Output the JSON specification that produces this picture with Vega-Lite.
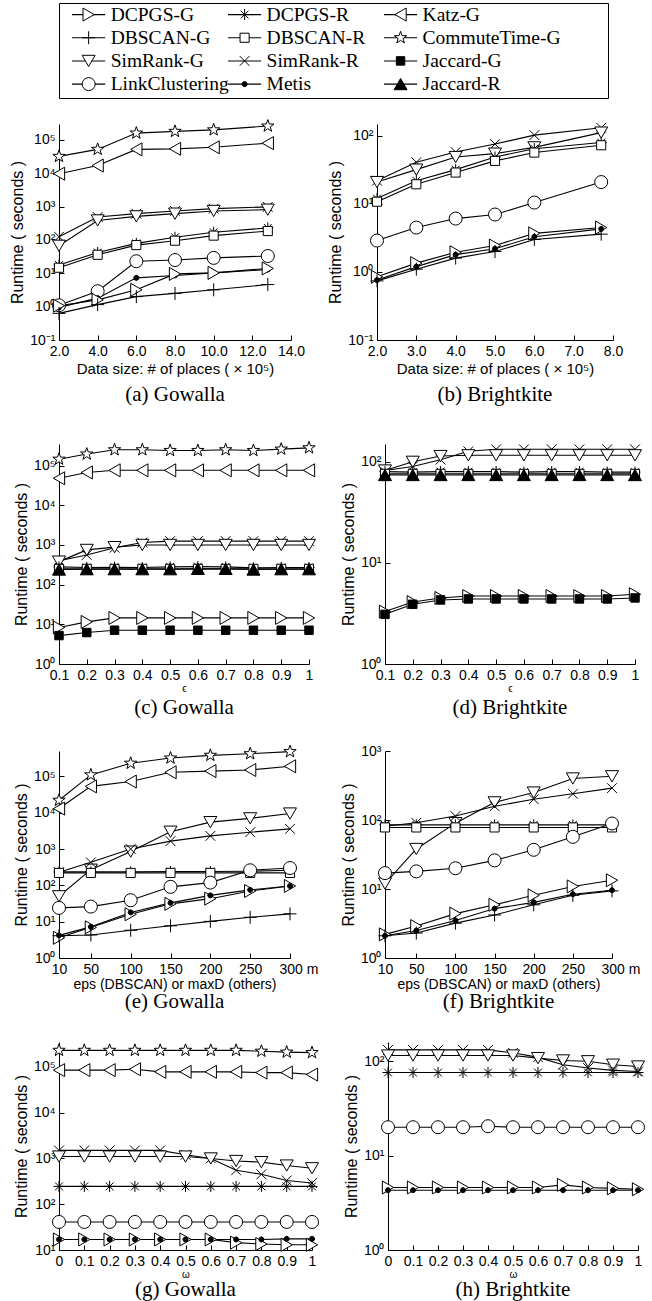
{
"$schema": "https://vega.github.io/schema/vega-lite/v6.json",
"background": "white",
"padding": {"left": 5, "top": 2, "right": 5, "bottom": 2},
"spacing": 18,
"datasets": {
"leg": [
{"s":"DCPGS-G","c":0,"r":0},{"s":"DBSCAN-G","c":0,"r":1},{"s":"SimRank-G","c":0,"r":2},{"s":"LinkClustering","c":0,"r":3},
{"s":"DCPGS-R","c":1,"r":0},{"s":"DBSCAN-R","c":1,"r":1},{"s":"SimRank-R","c":1,"r":2},{"s":"Metis","c":1,"r":3},
{"s":"Katz-G","c":2,"r":0},{"s":"CommuteTime-G","c":2,"r":1},{"s":"Jaccard-G","c":2,"r":2},{"s":"Jaccard-R","c":2,"r":3}
],
"a": [
{"s":"CommuteTime-G","x":2,"y":32000},{"s":"CommuteTime-G","x":4,"y":52000},{"s":"CommuteTime-G","x":6,"y":160000},{"s":"CommuteTime-G","x":8,"y":180000},{"s":"CommuteTime-G","x":10,"y":200000},{"s":"CommuteTime-G","x":12.8,"y":260000},
{"s":"Katz-G","x":2,"y":9700},{"s":"Katz-G","x":4,"y":17000},{"s":"Katz-G","x":6,"y":52000},{"s":"Katz-G","x":8,"y":54000},{"s":"Katz-G","x":10,"y":60000},{"s":"Katz-G","x":12.8,"y":80000},
{"s":"SimRank-R","x":2,"y":125},{"s":"SimRank-R","x":4,"y":490},{"s":"SimRank-R","x":6,"y":615},{"s":"SimRank-R","x":8,"y":740},{"s":"SimRank-R","x":10,"y":870},{"s":"SimRank-R","x":12.8,"y":980},
{"s":"SimRank-G","x":2,"y":67},{"s":"SimRank-G","x":4,"y":385},{"s":"SimRank-G","x":6,"y":510},{"s":"SimRank-G","x":8,"y":615},{"s":"SimRank-G","x":10,"y":740},{"s":"SimRank-G","x":12.8,"y":810},
{"s":"DCPGS-R","x":2,"y":17.7},{"s":"DCPGS-R","x":4,"y":42},{"s":"DCPGS-R","x":6,"y":79},{"s":"DCPGS-R","x":8,"y":120},{"s":"DCPGS-R","x":10,"y":170},{"s":"DCPGS-R","x":12.8,"y":230},
{"s":"DBSCAN-R","x":2,"y":14.7},{"s":"DBSCAN-R","x":4,"y":36},{"s":"DBSCAN-R","x":6,"y":70},{"s":"DBSCAN-R","x":8,"y":95},{"s":"DBSCAN-R","x":10,"y":135},{"s":"DBSCAN-R","x":12.8,"y":185},
{"s":"LinkClustering","x":2,"y":1.1},{"s":"LinkClustering","x":4,"y":2.9},{"s":"LinkClustering","x":6,"y":23},{"s":"LinkClustering","x":8,"y":25},{"s":"LinkClustering","x":10,"y":29},{"s":"LinkClustering","x":12.8,"y":33},
{"s":"Metis","x":2,"y":0.95},{"s":"Metis","x":4,"y":1.8},{"s":"Metis","x":6,"y":7.3},{"s":"Metis","x":8,"y":8.6},{"s":"Metis","x":10,"y":10.3},{"s":"Metis","x":12.8,"y":13},
{"s":"DCPGS-G","x":2,"y":1.07},{"s":"DCPGS-G","x":4,"y":1.6},{"s":"DCPGS-G","x":6,"y":3.2},{"s":"DCPGS-G","x":8,"y":9.6},{"s":"DCPGS-G","x":10,"y":10.3},{"s":"DCPGS-G","x":12.8,"y":14},
{"s":"DBSCAN-G","x":2,"y":0.63},{"s":"DBSCAN-G","x":4,"y":1.15},{"s":"DBSCAN-G","x":6,"y":2.0},{"s":"DBSCAN-G","x":8,"y":2.5},{"s":"DBSCAN-G","x":10,"y":3.2},{"s":"DBSCAN-G","x":12.8,"y":4.6}
],
"b": [
{"s":"SimRank-R","x":2,"y":22},{"s":"SimRank-R","x":3,"y":41},{"s":"SimRank-R","x":4,"y":58},{"s":"SimRank-R","x":5,"y":76},{"s":"SimRank-R","x":6,"y":103},{"s":"SimRank-R","x":7.7,"y":132},
{"s":"SimRank-G","x":2,"y":21},{"s":"SimRank-G","x":3,"y":32},{"s":"SimRank-G","x":4,"y":49},{"s":"SimRank-G","x":5,"y":55},{"s":"SimRank-G","x":6,"y":68},{"s":"SimRank-G","x":7.7,"y":112},
{"s":"DCPGS-R","x":2,"y":12},{"s":"DCPGS-R","x":3,"y":22},{"s":"DCPGS-R","x":4,"y":32},{"s":"DCPGS-R","x":5,"y":49},{"s":"DCPGS-R","x":6,"y":65},{"s":"DCPGS-R","x":7.7,"y":80},
{"s":"DBSCAN-R","x":2,"y":10.8},{"s":"DBSCAN-R","x":3,"y":19.5},{"s":"DBSCAN-R","x":4,"y":29},{"s":"DBSCAN-R","x":5,"y":43},{"s":"DBSCAN-R","x":6,"y":57},{"s":"DBSCAN-R","x":7.7,"y":73},
{"s":"LinkClustering","x":2,"y":2.9},{"s":"LinkClustering","x":3,"y":4.5},{"s":"LinkClustering","x":4,"y":6.1},{"s":"LinkClustering","x":5,"y":7.0},{"s":"LinkClustering","x":6,"y":10.5},{"s":"LinkClustering","x":7.7,"y":21},
{"s":"DCPGS-G","x":2,"y":0.85},{"s":"DCPGS-G","x":3,"y":1.35},{"s":"DCPGS-G","x":4,"y":1.95},{"s":"DCPGS-G","x":5,"y":2.45},{"s":"DCPGS-G","x":6,"y":3.7},{"s":"DCPGS-G","x":7.7,"y":4.5},
{"s":"Metis","x":2,"y":0.76},{"s":"Metis","x":3,"y":1.2},{"s":"Metis","x":4,"y":1.8},{"s":"Metis","x":5,"y":2.2},{"s":"Metis","x":6,"y":3.3},{"s":"Metis","x":7.7,"y":4.3},
{"s":"DBSCAN-G","x":2,"y":0.74},{"s":"DBSCAN-G","x":3,"y":1.1},{"s":"DBSCAN-G","x":4,"y":1.6},{"s":"DBSCAN-G","x":5,"y":2.0},{"s":"DBSCAN-G","x":6,"y":3.0},{"s":"DBSCAN-G","x":7.7,"y":3.6}
],
"c": [
{"s":"CommuteTime-G","x":0.1,"y":145000},{"s":"CommuteTime-G","x":0.2,"y":195000},{"s":"CommuteTime-G","x":0.3,"y":250000},{"s":"CommuteTime-G","x":0.4,"y":250000},{"s":"CommuteTime-G","x":0.5,"y":240000},{"s":"CommuteTime-G","x":0.6,"y":240000},{"s":"CommuteTime-G","x":0.7,"y":250000},{"s":"CommuteTime-G","x":0.8,"y":240000},{"s":"CommuteTime-G","x":0.9,"y":260000},{"s":"CommuteTime-G","x":1,"y":280000},
{"s":"Katz-G","x":0.1,"y":48000},{"s":"Katz-G","x":0.2,"y":67000},{"s":"Katz-G","x":0.3,"y":76000},{"s":"Katz-G","x":0.4,"y":76000},{"s":"Katz-G","x":0.5,"y":76000},{"s":"Katz-G","x":0.6,"y":76000},{"s":"Katz-G","x":0.7,"y":76000},{"s":"Katz-G","x":0.8,"y":76000},{"s":"Katz-G","x":0.9,"y":76000},{"s":"Katz-G","x":1,"y":76000},
{"s":"SimRank-R","x":0.1,"y":400},{"s":"SimRank-R","x":0.2,"y":560},{"s":"SimRank-R","x":0.3,"y":850},{"s":"SimRank-R","x":0.4,"y":1150},{"s":"SimRank-R","x":0.5,"y":1250},{"s":"SimRank-R","x":0.6,"y":1250},{"s":"SimRank-R","x":0.7,"y":1250},{"s":"SimRank-R","x":0.8,"y":1250},{"s":"SimRank-R","x":0.9,"y":1250},{"s":"SimRank-R","x":1,"y":1250},
{"s":"SimRank-G","x":0.1,"y":380},{"s":"SimRank-G","x":0.2,"y":750},{"s":"SimRank-G","x":0.3,"y":880},{"s":"SimRank-G","x":0.4,"y":1000},{"s":"SimRank-G","x":0.5,"y":1000},{"s":"SimRank-G","x":0.6,"y":1000},{"s":"SimRank-G","x":0.7,"y":1000},{"s":"SimRank-G","x":0.8,"y":1000},{"s":"SimRank-G","x":0.9,"y":1000},{"s":"SimRank-G","x":1,"y":1000},
{"s":"DCPGS-R","x":0.1,"y":280},{"s":"DCPGS-R","x":0.2,"y":270},{"s":"DCPGS-R","x":0.3,"y":275},{"s":"DCPGS-R","x":0.4,"y":270},{"s":"DCPGS-R","x":0.5,"y":280},{"s":"DCPGS-R","x":0.6,"y":285},{"s":"DCPGS-R","x":0.7,"y":280},{"s":"DCPGS-R","x":0.8,"y":265},{"s":"DCPGS-R","x":0.9,"y":270},{"s":"DCPGS-R","x":1,"y":270},
{"s":"DBSCAN-R","x":0.1,"y":250},{"s":"DBSCAN-R","x":0.2,"y":250},{"s":"DBSCAN-R","x":0.3,"y":250},{"s":"DBSCAN-R","x":0.4,"y":250},{"s":"DBSCAN-R","x":0.5,"y":250},{"s":"DBSCAN-R","x":0.6,"y":250},{"s":"DBSCAN-R","x":0.7,"y":250},{"s":"DBSCAN-R","x":0.8,"y":250},{"s":"DBSCAN-R","x":0.9,"y":250},{"s":"DBSCAN-R","x":1,"y":250},
{"s":"Jaccard-R","x":0.1,"y":240},{"s":"Jaccard-R","x":0.2,"y":245},{"s":"Jaccard-R","x":0.3,"y":245},{"s":"Jaccard-R","x":0.4,"y":245},{"s":"Jaccard-R","x":0.5,"y":245},{"s":"Jaccard-R","x":0.6,"y":250},{"s":"Jaccard-R","x":0.7,"y":250},{"s":"Jaccard-R","x":0.8,"y":240},{"s":"Jaccard-R","x":0.9,"y":245},{"s":"Jaccard-R","x":1,"y":245},
{"s":"DCPGS-G","x":0.1,"y":8.3},{"s":"DCPGS-G","x":0.2,"y":11.5},{"s":"DCPGS-G","x":0.3,"y":14.5},{"s":"DCPGS-G","x":0.4,"y":14.5},{"s":"DCPGS-G","x":0.5,"y":14.5},{"s":"DCPGS-G","x":0.6,"y":14.5},{"s":"DCPGS-G","x":0.7,"y":14.5},{"s":"DCPGS-G","x":0.8,"y":14.5},{"s":"DCPGS-G","x":0.9,"y":14.5},{"s":"DCPGS-G","x":1,"y":14.5},
{"s":"Jaccard-G","x":0.1,"y":5.2},{"s":"Jaccard-G","x":0.2,"y":6.2},{"s":"Jaccard-G","x":0.3,"y":7.1},{"s":"Jaccard-G","x":0.4,"y":7.1},{"s":"Jaccard-G","x":0.5,"y":7.1},{"s":"Jaccard-G","x":0.6,"y":7.1},{"s":"Jaccard-G","x":0.7,"y":7.1},{"s":"Jaccard-G","x":0.8,"y":7.1},{"s":"Jaccard-G","x":0.9,"y":7.1},{"s":"Jaccard-G","x":1,"y":7.1}
],
"d": [
{"s":"SimRank-R","x":0.1,"y":82},{"s":"SimRank-R","x":0.2,"y":90},{"s":"SimRank-R","x":0.3,"y":105},{"s":"SimRank-R","x":0.4,"y":127},{"s":"SimRank-R","x":0.5,"y":133},{"s":"SimRank-R","x":0.6,"y":133},{"s":"SimRank-R","x":0.7,"y":133},{"s":"SimRank-R","x":0.8,"y":133},{"s":"SimRank-R","x":0.9,"y":133},{"s":"SimRank-R","x":1,"y":133},
{"s":"SimRank-G","x":0.1,"y":82},{"s":"SimRank-G","x":0.2,"y":100},{"s":"SimRank-G","x":0.3,"y":114},{"s":"SimRank-G","x":0.4,"y":116},{"s":"SimRank-G","x":0.5,"y":116},{"s":"SimRank-G","x":0.6,"y":116},{"s":"SimRank-G","x":0.7,"y":116},{"s":"SimRank-G","x":0.8,"y":116},{"s":"SimRank-G","x":0.9,"y":116},{"s":"SimRank-G","x":1,"y":116},
{"s":"DCPGS-R","x":0.1,"y":80},{"s":"DCPGS-R","x":0.2,"y":79},{"s":"DCPGS-R","x":0.3,"y":80},{"s":"DCPGS-R","x":0.4,"y":80},{"s":"DCPGS-R","x":0.5,"y":80},{"s":"DCPGS-R","x":0.6,"y":79},{"s":"DCPGS-R","x":0.7,"y":80},{"s":"DCPGS-R","x":0.8,"y":80},{"s":"DCPGS-R","x":0.9,"y":79},{"s":"DCPGS-R","x":1,"y":79},
{"s":"DBSCAN-R","x":0.1,"y":76},{"s":"DBSCAN-R","x":0.2,"y":76},{"s":"DBSCAN-R","x":0.3,"y":76},{"s":"DBSCAN-R","x":0.4,"y":76},{"s":"DBSCAN-R","x":0.5,"y":76},{"s":"DBSCAN-R","x":0.6,"y":76},{"s":"DBSCAN-R","x":0.7,"y":76},{"s":"DBSCAN-R","x":0.8,"y":76},{"s":"DBSCAN-R","x":0.9,"y":76},{"s":"DBSCAN-R","x":1,"y":76},
{"s":"Jaccard-R","x":0.1,"y":74},{"s":"Jaccard-R","x":0.2,"y":74},{"s":"Jaccard-R","x":0.3,"y":74},{"s":"Jaccard-R","x":0.4,"y":74},{"s":"Jaccard-R","x":0.5,"y":74},{"s":"Jaccard-R","x":0.6,"y":74},{"s":"Jaccard-R","x":0.7,"y":74},{"s":"Jaccard-R","x":0.8,"y":74},{"s":"Jaccard-R","x":0.9,"y":74},{"s":"Jaccard-R","x":1,"y":74},
{"s":"DCPGS-G","x":0.1,"y":3.3},{"s":"DCPGS-G","x":0.2,"y":4.1},{"s":"DCPGS-G","x":0.3,"y":4.5},{"s":"DCPGS-G","x":0.4,"y":4.7},{"s":"DCPGS-G","x":0.5,"y":4.7},{"s":"DCPGS-G","x":0.6,"y":4.7},{"s":"DCPGS-G","x":0.7,"y":4.7},{"s":"DCPGS-G","x":0.8,"y":4.7},{"s":"DCPGS-G","x":0.9,"y":4.7},{"s":"DCPGS-G","x":1,"y":4.9},
{"s":"Jaccard-G","x":0.1,"y":3.1},{"s":"Jaccard-G","x":0.2,"y":3.9},{"s":"Jaccard-G","x":0.3,"y":4.3},{"s":"Jaccard-G","x":0.4,"y":4.4},{"s":"Jaccard-G","x":0.5,"y":4.4},{"s":"Jaccard-G","x":0.6,"y":4.4},{"s":"Jaccard-G","x":0.7,"y":4.4},{"s":"Jaccard-G","x":0.8,"y":4.4},{"s":"Jaccard-G","x":0.9,"y":4.4},{"s":"Jaccard-G","x":1,"y":4.5}
],
"e": [
{"s":"CommuteTime-G","x":10,"y":22000},{"s":"CommuteTime-G","x":50,"y":110000},{"s":"CommuteTime-G","x":100,"y":230000},{"s":"CommuteTime-G","x":150,"y":320000},{"s":"CommuteTime-G","x":200,"y":380000},{"s":"CommuteTime-G","x":250,"y":420000},{"s":"CommuteTime-G","x":300,"y":480000},
{"s":"Katz-G","x":10,"y":13000},{"s":"Katz-G","x":50,"y":53000},{"s":"Katz-G","x":100,"y":72000},{"s":"Katz-G","x":150,"y":130000},{"s":"Katz-G","x":200,"y":140000},{"s":"Katz-G","x":250,"y":150000},{"s":"Katz-G","x":300,"y":190000},
{"s":"SimRank-G","x":10,"y":50},{"s":"SimRank-G","x":50,"y":270},{"s":"SimRank-G","x":100,"y":850},{"s":"SimRank-G","x":150,"y":3000},{"s":"SimRank-G","x":200,"y":5500},{"s":"SimRank-G","x":250,"y":7000},{"s":"SimRank-G","x":300,"y":9500},
{"s":"SimRank-R","x":10,"y":230},{"s":"SimRank-R","x":50,"y":430},{"s":"SimRank-R","x":100,"y":1000},{"s":"SimRank-R","x":150,"y":1650},{"s":"SimRank-R","x":200,"y":2300},{"s":"SimRank-R","x":250,"y":2900},{"s":"SimRank-R","x":300,"y":3600},
{"s":"DCPGS-R","x":10,"y":235},{"s":"DCPGS-R","x":50,"y":235},{"s":"DCPGS-R","x":100,"y":235},{"s":"DCPGS-R","x":150,"y":240},{"s":"DCPGS-R","x":200,"y":240},{"s":"DCPGS-R","x":250,"y":245},{"s":"DCPGS-R","x":300,"y":260},
{"s":"DBSCAN-R","x":10,"y":220},{"s":"DBSCAN-R","x":50,"y":220},{"s":"DBSCAN-R","x":100,"y":220},{"s":"DBSCAN-R","x":150,"y":220},{"s":"DBSCAN-R","x":200,"y":220},{"s":"DBSCAN-R","x":250,"y":220},{"s":"DBSCAN-R","x":300,"y":220},
{"s":"LinkClustering","x":10,"y":24},{"s":"LinkClustering","x":50,"y":26},{"s":"LinkClustering","x":100,"y":39},{"s":"LinkClustering","x":150,"y":91},{"s":"LinkClustering","x":200,"y":119},{"s":"LinkClustering","x":250,"y":260},{"s":"LinkClustering","x":300,"y":300},
{"s":"DCPGS-G","x":10,"y":3.6},{"s":"DCPGS-G","x":50,"y":7.0},{"s":"DCPGS-G","x":100,"y":16},{"s":"DCPGS-G","x":150,"y":31},{"s":"DCPGS-G","x":200,"y":43},{"s":"DCPGS-G","x":250,"y":70},{"s":"DCPGS-G","x":300,"y":96},
{"s":"Metis","x":10,"y":4.2},{"s":"Metis","x":50,"y":7.2},{"s":"Metis","x":100,"y":18},{"s":"Metis","x":150,"y":33},{"s":"Metis","x":200,"y":53},{"s":"Metis","x":250,"y":75},{"s":"Metis","x":300,"y":96},
{"s":"DBSCAN-G","x":10,"y":4.1},{"s":"DBSCAN-G","x":50,"y":4.3},{"s":"DBSCAN-G","x":100,"y":5.8},{"s":"DBSCAN-G","x":150,"y":7.7},{"s":"DBSCAN-G","x":200,"y":10.2},{"s":"DBSCAN-G","x":250,"y":13.2},{"s":"DBSCAN-G","x":300,"y":16.4}
],
"f": [
{"s":"SimRank-G","x":10,"y":12},{"s":"SimRank-G","x":50,"y":38},{"s":"SimRank-G","x":100,"y":90},{"s":"SimRank-G","x":150,"y":180},{"s":"SimRank-G","x":200,"y":250},{"s":"SimRank-G","x":250,"y":400},{"s":"SimRank-G","x":300,"y":430},
{"s":"SimRank-R","x":10,"y":81},{"s":"SimRank-R","x":50,"y":91},{"s":"SimRank-R","x":100,"y":114},{"s":"SimRank-R","x":150,"y":158},{"s":"SimRank-R","x":200,"y":200},{"s":"SimRank-R","x":250,"y":240},{"s":"SimRank-R","x":300,"y":290},
{"s":"DCPGS-R","x":10,"y":85},{"s":"DCPGS-R","x":50,"y":85},{"s":"DCPGS-R","x":100,"y":85},{"s":"DCPGS-R","x":150,"y":85},{"s":"DCPGS-R","x":200,"y":85},{"s":"DCPGS-R","x":250,"y":85},{"s":"DCPGS-R","x":300,"y":85},
{"s":"DBSCAN-R","x":10,"y":78},{"s":"DBSCAN-R","x":50,"y":78},{"s":"DBSCAN-R","x":100,"y":78},{"s":"DBSCAN-R","x":150,"y":78},{"s":"DBSCAN-R","x":200,"y":78},{"s":"DBSCAN-R","x":250,"y":78},{"s":"DBSCAN-R","x":300,"y":78},
{"s":"LinkClustering","x":10,"y":17},{"s":"LinkClustering","x":50,"y":18},{"s":"LinkClustering","x":100,"y":20},{"s":"LinkClustering","x":150,"y":26},{"s":"LinkClustering","x":200,"y":37},{"s":"LinkClustering","x":250,"y":57},{"s":"LinkClustering","x":300,"y":89},
{"s":"DCPGS-G","x":10,"y":2.2},{"s":"DCPGS-G","x":50,"y":2.9},{"s":"DCPGS-G","x":100,"y":4.4},{"s":"DCPGS-G","x":150,"y":5.9},{"s":"DCPGS-G","x":200,"y":8.1},{"s":"DCPGS-G","x":250,"y":10.9},{"s":"DCPGS-G","x":300,"y":13.4},
{"s":"Metis","x":10,"y":2.1},{"s":"Metis","x":50,"y":2.5},{"s":"Metis","x":100,"y":3.5},{"s":"Metis","x":150,"y":5.2},{"s":"Metis","x":200,"y":6.4},{"s":"Metis","x":250,"y":8.4},{"s":"Metis","x":300,"y":9.6},
{"s":"DBSCAN-G","x":10,"y":2.1},{"s":"DBSCAN-G","x":50,"y":2.3},{"s":"DBSCAN-G","x":100,"y":3.2},{"s":"DBSCAN-G","x":150,"y":4.2},{"s":"DBSCAN-G","x":200,"y":5.9},{"s":"DBSCAN-G","x":250,"y":8.1},{"s":"DBSCAN-G","x":300,"y":9.4}
],
"g": [
{"s":"CommuteTime-G","x":0,"y":230000},{"s":"CommuteTime-G","x":0.1,"y":230000},{"s":"CommuteTime-G","x":0.2,"y":230000},{"s":"CommuteTime-G","x":0.3,"y":230000},{"s":"CommuteTime-G","x":0.4,"y":230000},{"s":"CommuteTime-G","x":0.5,"y":230000},{"s":"CommuteTime-G","x":0.6,"y":230000},{"s":"CommuteTime-G","x":0.7,"y":230000},{"s":"CommuteTime-G","x":0.8,"y":220000},{"s":"CommuteTime-G","x":0.9,"y":210000},{"s":"CommuteTime-G","x":1,"y":205000},
{"s":"Katz-G","x":0,"y":85000},{"s":"Katz-G","x":0.1,"y":85000},{"s":"Katz-G","x":0.2,"y":85000},{"s":"Katz-G","x":0.3,"y":89000},{"s":"Katz-G","x":0.4,"y":78000},{"s":"Katz-G","x":0.5,"y":78000},{"s":"Katz-G","x":0.6,"y":78000},{"s":"Katz-G","x":0.7,"y":78000},{"s":"Katz-G","x":0.8,"y":75000},{"s":"Katz-G","x":0.9,"y":75000},{"s":"Katz-G","x":1,"y":68000},
{"s":"SimRank-R","x":0,"y":1500},{"s":"SimRank-R","x":0.1,"y":1500},{"s":"SimRank-R","x":0.2,"y":1500},{"s":"SimRank-R","x":0.3,"y":1500},{"s":"SimRank-R","x":0.4,"y":1500},{"s":"SimRank-R","x":0.5,"y":1200},{"s":"SimRank-R","x":0.6,"y":1000},{"s":"SimRank-R","x":0.7,"y":550},{"s":"SimRank-R","x":0.8,"y":450},{"s":"SimRank-R","x":0.9,"y":330},{"s":"SimRank-R","x":1,"y":290},
{"s":"SimRank-G","x":0,"y":1100},{"s":"SimRank-G","x":0.1,"y":1100},{"s":"SimRank-G","x":0.2,"y":1100},{"s":"SimRank-G","x":0.3,"y":1100},{"s":"SimRank-G","x":0.4,"y":1100},{"s":"SimRank-G","x":0.5,"y":1100},{"s":"SimRank-G","x":0.6,"y":1000},{"s":"SimRank-G","x":0.7,"y":880},{"s":"SimRank-G","x":0.8,"y":830},{"s":"SimRank-G","x":0.9,"y":700},{"s":"SimRank-G","x":1,"y":610},
{"s":"DCPGS-R","x":0,"y":245},{"s":"DCPGS-R","x":0.1,"y":245},{"s":"DCPGS-R","x":0.2,"y":245},{"s":"DCPGS-R","x":0.3,"y":245},{"s":"DCPGS-R","x":0.4,"y":245},{"s":"DCPGS-R","x":0.5,"y":245},{"s":"DCPGS-R","x":0.6,"y":245},{"s":"DCPGS-R","x":0.7,"y":245},{"s":"DCPGS-R","x":0.8,"y":245},{"s":"DCPGS-R","x":0.9,"y":245},{"s":"DCPGS-R","x":1,"y":245},
{"s":"LinkClustering","x":0,"y":41},{"s":"LinkClustering","x":0.1,"y":41},{"s":"LinkClustering","x":0.2,"y":41},{"s":"LinkClustering","x":0.3,"y":41},{"s":"LinkClustering","x":0.4,"y":41},{"s":"LinkClustering","x":0.5,"y":41},{"s":"LinkClustering","x":0.6,"y":41},{"s":"LinkClustering","x":0.7,"y":41},{"s":"LinkClustering","x":0.8,"y":41},{"s":"LinkClustering","x":0.9,"y":41},{"s":"LinkClustering","x":1,"y":41},
{"s":"DCPGS-G","x":0,"y":17},{"s":"DCPGS-G","x":0.1,"y":17},{"s":"DCPGS-G","x":0.2,"y":17},{"s":"DCPGS-G","x":0.3,"y":17},{"s":"DCPGS-G","x":0.4,"y":17},{"s":"DCPGS-G","x":0.5,"y":17},{"s":"DCPGS-G","x":0.6,"y":17},{"s":"DCPGS-G","x":0.7,"y":14.5},{"s":"DCPGS-G","x":0.8,"y":13.5},{"s":"DCPGS-G","x":0.9,"y":13},{"s":"DCPGS-G","x":1,"y":13},
{"s":"Metis","x":0,"y":17},{"s":"Metis","x":0.1,"y":17},{"s":"Metis","x":0.2,"y":17},{"s":"Metis","x":0.3,"y":17},{"s":"Metis","x":0.4,"y":17},{"s":"Metis","x":0.5,"y":17},{"s":"Metis","x":0.6,"y":17},{"s":"Metis","x":0.7,"y":17},{"s":"Metis","x":0.8,"y":17},{"s":"Metis","x":0.9,"y":17.5},{"s":"Metis","x":1,"y":17.5}
],
"h": [
{"s":"SimRank-R","x":0,"y":132},{"s":"SimRank-R","x":0.1,"y":132},{"s":"SimRank-R","x":0.2,"y":132},{"s":"SimRank-R","x":0.3,"y":132},{"s":"SimRank-R","x":0.4,"y":132},{"s":"SimRank-R","x":0.5,"y":123},{"s":"SimRank-R","x":0.6,"y":110},{"s":"SimRank-R","x":0.7,"y":92},{"s":"SimRank-R","x":0.8,"y":85},{"s":"SimRank-R","x":0.9,"y":80},{"s":"SimRank-R","x":1,"y":78},
{"s":"SimRank-G","x":0,"y":115},{"s":"SimRank-G","x":0.1,"y":115},{"s":"SimRank-G","x":0.2,"y":115},{"s":"SimRank-G","x":0.3,"y":115},{"s":"SimRank-G","x":0.4,"y":115},{"s":"SimRank-G","x":0.5,"y":115},{"s":"SimRank-G","x":0.6,"y":108},{"s":"SimRank-G","x":0.7,"y":102},{"s":"SimRank-G","x":0.8,"y":100},{"s":"SimRank-G","x":0.9,"y":92},{"s":"SimRank-G","x":1,"y":88},
{"s":"DCPGS-R","x":0,"y":76},{"s":"DCPGS-R","x":0.1,"y":76},{"s":"DCPGS-R","x":0.2,"y":76},{"s":"DCPGS-R","x":0.3,"y":76},{"s":"DCPGS-R","x":0.4,"y":76},{"s":"DCPGS-R","x":0.5,"y":76},{"s":"DCPGS-R","x":0.6,"y":76},{"s":"DCPGS-R","x":0.7,"y":76},{"s":"DCPGS-R","x":0.8,"y":76},{"s":"DCPGS-R","x":0.9,"y":76},{"s":"DCPGS-R","x":1,"y":76},
{"s":"LinkClustering","x":0,"y":20},{"s":"LinkClustering","x":0.1,"y":20},{"s":"LinkClustering","x":0.2,"y":20},{"s":"LinkClustering","x":0.3,"y":20},{"s":"LinkClustering","x":0.4,"y":20.5},{"s":"LinkClustering","x":0.5,"y":20},{"s":"LinkClustering","x":0.6,"y":20},{"s":"LinkClustering","x":0.7,"y":20},{"s":"LinkClustering","x":0.8,"y":20},{"s":"LinkClustering","x":0.9,"y":20},{"s":"LinkClustering","x":1,"y":20},
{"s":"DCPGS-G","x":0,"y":4.6},{"s":"DCPGS-G","x":0.1,"y":4.6},{"s":"DCPGS-G","x":0.2,"y":4.6},{"s":"DCPGS-G","x":0.3,"y":4.6},{"s":"DCPGS-G","x":0.4,"y":4.6},{"s":"DCPGS-G","x":0.5,"y":4.6},{"s":"DCPGS-G","x":0.6,"y":4.6},{"s":"DCPGS-G","x":0.7,"y":4.9},{"s":"DCPGS-G","x":0.8,"y":4.6},{"s":"DCPGS-G","x":0.9,"y":4.5},{"s":"DCPGS-G","x":1,"y":4.4},
{"s":"Metis","x":0,"y":4.3},{"s":"Metis","x":0.1,"y":4.3},{"s":"Metis","x":0.2,"y":4.3},{"s":"Metis","x":0.3,"y":4.3},{"s":"Metis","x":0.4,"y":4.3},{"s":"Metis","x":0.5,"y":4.3},{"s":"Metis","x":0.6,"y":4.3},{"s":"Metis","x":0.7,"y":4.3},{"s":"Metis","x":0.8,"y":4.3},{"s":"Metis","x":0.9,"y":4.3},{"s":"Metis","x":1,"y":4.3}
]
},
"vconcat": [
{
"width": 549, "height": 95,
"view": {"stroke": "black", "strokeWidth": 1},
"data": {"name": "leg"},
"encoding": {
"x": {"field": "c", "type": "quantitative", "scale": {"domain": [-0.19, 3.33], "nice": false, "zero": false}, "axis": null},
"y": {"field": "r", "type": "quantitative", "scale": {"domain": [-0.5, 3.6], "reverse": true, "nice": false, "zero": false}, "axis": {"title": "Runtime", "titleColor": "white", "labels": false, "ticks": false, "domain": false, "minExtent": 33, "titlePadding": 4}}
},
"layer": [
{"mark": {"type": "point", "shape": "stroke", "size": 1100, "stroke": "black", "strokeWidth": 1.1, "opacity": 1}},
{"mark": {"type": "point", "size": 169, "stroke": "black", "strokeWidth": 1, "opacity": 1},
"encoding": {
"shape": {"field": "s", "type": "nominal", "legend": null, "scale": {"domain": ["DCPGS-G","DBSCAN-G","SimRank-G","LinkClustering","DCPGS-R","DBSCAN-R","SimRank-R","Metis","Katz-G","CommuteTime-G","Jaccard-G","Jaccard-R"], "range": ["triangle-right","M-1,0L1,0M0,-1L0,1","triangle-down","circle","M-0.85,0L0.85,0M0,-0.85L0,0.85M-0.6,-0.6L0.6,0.6M-0.6,0.6L0.6,-0.6","M-0.7,-0.7L0.7,-0.7L0.7,0.7L-0.7,0.7Z","M-0.75,-0.75L0.75,0.75M-0.75,0.75L0.75,-0.75","M0.4,0L0.28,0.28L0,0.4L-0.28,0.28L-0.4,0L-0.28,-0.28L0,-0.4L0.28,-0.28Z","triangle-left","M0,-1L0.235,-0.324L0.951,-0.309L0.38,0.124L0.588,0.809L0,0.4L-0.588,0.809L-0.38,0.124L-0.951,-0.309L-0.235,-0.324Z","M-0.65,-0.65L0.65,-0.65L0.65,0.65L-0.65,0.65Z","triangle-up"]}},
"fill": {"field": "s", "type": "nominal", "legend": null, "scale": {"domain": ["DCPGS-G","DBSCAN-G","SimRank-G","LinkClustering","DCPGS-R","DBSCAN-R","SimRank-R","Metis","Katz-G","CommuteTime-G","Jaccard-G","Jaccard-R"], "range": ["white","white","white","white","white","white","white","black","white","white","black","black"]}}
}},
{"mark": {"type": "text", "align": "left", "baseline": "middle", "dx": 22, "font": "Liberation Serif", "fontSize": 19.5, "color": "black"},
"encoding": {"text": {"field": "s"}}}
]
},
{
"spacing": 34,
"vconcat": [
{
"spacing": 22,
"hconcat": [
{
"width": 232, "height": 216,
"data": {"name": "a"},
"title": {"text": "(a) Gowalla", "offset": 8},
"encoding": {
"x": {"field": "x", "type": "quantitative", "scale": {"domain": [2, 14], "nice": false, "zero": false}, "axis": {"values": [2,4,6,8,10,12,14], "format": ".1f", "title": "Data size: # of places ( × 10⁵)", "titleFontSize": 15, "titlePadding": 3}},
"y": {"field": "y", "type": "quantitative", "scale": {"type": "log", "domain": [0.1, 300000], "nice": false}, "axis": {"values": [0.1,1,10,100,1000,10000,100000], "title": "Runtime ( seconds )", "labelExpr": "'10' + replace(replace(replace(replace(replace(replace(replace(replace(round(log(datum.value)/LN10) + '', '-', '⁻'), '0', '⁰'), '1', '¹'), '2', '²'), '3', '³'), '4', '⁴'), '5', '⁵'), '6', '⁶')"}}
},
"layer": [
{"mark": {"type": "line", "stroke": "black", "strokeWidth": 1.1}, "encoding": {"detail": {"field": "s"}}},
{"mark": {"type": "point", "size": 169, "stroke": "black", "strokeWidth": 1, "opacity": 1},
"encoding": {
"shape": {"field": "s", "type": "nominal", "legend": null, "scale": {"domain": ["DCPGS-G","DBSCAN-G","SimRank-G","LinkClustering","DCPGS-R","DBSCAN-R","SimRank-R","Metis","Katz-G","CommuteTime-G","Jaccard-G","Jaccard-R"], "range": ["triangle-right","M-1,0L1,0M0,-1L0,1","triangle-down","circle","M-0.85,0L0.85,0M0,-0.85L0,0.85M-0.6,-0.6L0.6,0.6M-0.6,0.6L0.6,-0.6","M-0.7,-0.7L0.7,-0.7L0.7,0.7L-0.7,0.7Z","M-0.75,-0.75L0.75,0.75M-0.75,0.75L0.75,-0.75","M0.4,0L0.28,0.28L0,0.4L-0.28,0.28L-0.4,0L-0.28,-0.28L0,-0.4L0.28,-0.28Z","triangle-left","M0,-1L0.235,-0.324L0.951,-0.309L0.38,0.124L0.588,0.809L0,0.4L-0.588,0.809L-0.38,0.124L-0.951,-0.309L-0.235,-0.324Z","M-0.65,-0.65L0.65,-0.65L0.65,0.65L-0.65,0.65Z","triangle-up"]}},
"fill": {"field": "s", "type": "nominal", "legend": null, "scale": {"domain": ["DCPGS-G","DBSCAN-G","SimRank-G","LinkClustering","DCPGS-R","DBSCAN-R","SimRank-R","Metis","Katz-G","CommuteTime-G","Jaccard-G","Jaccard-R"], "range": ["white","white","white","white","white","white","white","black","white","white","black","black"]}}
}}
]
},
{
"width": 236, "height": 216,
"data": {"name": "b"},
"title": {"text": "(b) Brightkite", "offset": 8},
"encoding": {
"x": {"field": "x", "type": "quantitative", "scale": {"domain": [2, 8], "nice": false, "zero": false}, "axis": {"values": [2,3,4,5,6,7,8], "format": ".1f", "title": "Data size: # of places ( × 10⁵)", "titleFontSize": 15, "titlePadding": 3}},
"y": {"field": "y", "type": "quantitative", "scale": {"type": "log", "domain": [0.1, 150], "nice": false}, "axis": {"values": [0.1,1,10,100], "title": "Runtime ( seconds )", "labelExpr": "'10' + replace(replace(replace(replace(replace(replace(replace(replace(round(log(datum.value)/LN10) + '', '-', '⁻'), '0', '⁰'), '1', '¹'), '2', '²'), '3', '³'), '4', '⁴'), '5', '⁵'), '6', '⁶')"}}
},
"layer": [
{"mark": {"type": "line", "stroke": "black", "strokeWidth": 1.1}, "encoding": {"detail": {"field": "s"}}},
{"mark": {"type": "point", "size": 169, "stroke": "black", "strokeWidth": 1, "opacity": 1},
"encoding": {
"shape": {"field": "s", "type": "nominal", "legend": null, "scale": {"domain": ["DCPGS-G","DBSCAN-G","SimRank-G","LinkClustering","DCPGS-R","DBSCAN-R","SimRank-R","Metis","Katz-G","CommuteTime-G","Jaccard-G","Jaccard-R"], "range": ["triangle-right","M-1,0L1,0M0,-1L0,1","triangle-down","circle","M-0.85,0L0.85,0M0,-0.85L0,0.85M-0.6,-0.6L0.6,0.6M-0.6,0.6L0.6,-0.6","M-0.7,-0.7L0.7,-0.7L0.7,0.7L-0.7,0.7Z","M-0.75,-0.75L0.75,0.75M-0.75,0.75L0.75,-0.75","M0.4,0L0.28,0.28L0,0.4L-0.28,0.28L-0.4,0L-0.28,-0.28L0,-0.4L0.28,-0.28Z","triangle-left","M0,-1L0.235,-0.324L0.951,-0.309L0.38,0.124L0.588,0.809L0,0.4L-0.588,0.809L-0.38,0.124L-0.951,-0.309L-0.235,-0.324Z","M-0.65,-0.65L0.65,-0.65L0.65,0.65L-0.65,0.65Z","triangle-up"]}},
"fill": {"field": "s", "type": "nominal", "legend": null, "scale": {"domain": ["DCPGS-G","DBSCAN-G","SimRank-G","LinkClustering","DCPGS-R","DBSCAN-R","SimRank-R","Metis","Katz-G","CommuteTime-G","Jaccard-G","Jaccard-R"], "range": ["white","white","white","white","white","white","white","black","white","white","black","black"]}}
}}
]
}
]
},
{
"spacing": 25,
"vconcat": [
{
"spacing": 22,
"hconcat": [
{
"width": 250, "height": 220,
"data": {"name": "c"},
"title": {"text": "(c) Gowalla", "offset": 4},
"encoding": {
"x": {"field": "x", "type": "quantitative", "scale": {"domain": [0.1, 1], "nice": false, "zero": false}, "axis": {"values": [0.1,0.2,0.3,0.4,0.5,0.6,0.7,0.8,0.9,1], "format": ".1~f", "title": "ϵ", "titleFontSize": 10, "titlePadding": 1}},
"y": {"field": "y", "type": "quantitative", "scale": {"type": "log", "domain": [1, 350000], "nice": false}, "axis": {"values": [1,10,100,1000,10000,100000], "title": "Runtime ( seconds )", "labelExpr": "'10' + replace(replace(replace(replace(replace(replace(replace(replace(round(log(datum.value)/LN10) + '', '-', '⁻'), '0', '⁰'), '1', '¹'), '2', '²'), '3', '³'), '4', '⁴'), '5', '⁵'), '6', '⁶')"}}
},
"layer": [
{"mark": {"type": "line", "stroke": "black", "strokeWidth": 1.1}, "encoding": {"detail": {"field": "s"}}},
{"mark": {"type": "point", "size": 169, "stroke": "black", "strokeWidth": 1, "opacity": 1},
"encoding": {
"shape": {"field": "s", "type": "nominal", "legend": null, "scale": {"domain": ["DCPGS-G","DBSCAN-G","SimRank-G","LinkClustering","DCPGS-R","DBSCAN-R","SimRank-R","Metis","Katz-G","CommuteTime-G","Jaccard-G","Jaccard-R"], "range": ["triangle-right","M-1,0L1,0M0,-1L0,1","triangle-down","circle","M-0.85,0L0.85,0M0,-0.85L0,0.85M-0.6,-0.6L0.6,0.6M-0.6,0.6L0.6,-0.6","M-0.7,-0.7L0.7,-0.7L0.7,0.7L-0.7,0.7Z","M-0.75,-0.75L0.75,0.75M-0.75,0.75L0.75,-0.75","M0.4,0L0.28,0.28L0,0.4L-0.28,0.28L-0.4,0L-0.28,-0.28L0,-0.4L0.28,-0.28Z","triangle-left","M0,-1L0.235,-0.324L0.951,-0.309L0.38,0.124L0.588,0.809L0,0.4L-0.588,0.809L-0.38,0.124L-0.951,-0.309L-0.235,-0.324Z","M-0.65,-0.65L0.65,-0.65L0.65,0.65L-0.65,0.65Z","triangle-up"]}},
"fill": {"field": "s", "type": "nominal", "legend": null, "scale": {"domain": ["DCPGS-G","DBSCAN-G","SimRank-G","LinkClustering","DCPGS-R","DBSCAN-R","SimRank-R","Metis","Katz-G","CommuteTime-G","Jaccard-G","Jaccard-R"], "range": ["white","white","white","white","white","white","white","black","white","white","black","black"]}}
}}
]
},
{
"width": 250, "height": 220,
"data": {"name": "d"},
"title": {"text": "(d) Brightkite", "offset": 4},
"encoding": {
"x": {"field": "x", "type": "quantitative", "scale": {"domain": [0.1, 1], "nice": false, "zero": false}, "axis": {"values": [0.1,0.2,0.3,0.4,0.5,0.6,0.7,0.8,0.9,1], "format": ".1~f", "title": "ϵ", "titleFontSize": 10, "titlePadding": 1}},
"y": {"field": "y", "type": "quantitative", "scale": {"type": "log", "domain": [1, 150], "nice": false}, "axis": {"values": [1,10,100], "title": "Runtime ( seconds )", "labelExpr": "'10' + replace(replace(replace(replace(replace(replace(replace(replace(round(log(datum.value)/LN10) + '', '-', '⁻'), '0', '⁰'), '1', '¹'), '2', '²'), '3', '³'), '4', '⁴'), '5', '⁵'), '6', '⁶')"}}
},
"layer": [
{"mark": {"type": "line", "stroke": "black", "strokeWidth": 1.1}, "encoding": {"detail": {"field": "s"}}},
{"mark": {"type": "point", "size": 169, "stroke": "black", "strokeWidth": 1, "opacity": 1},
"encoding": {
"shape": {"field": "s", "type": "nominal", "legend": null, "scale": {"domain": ["DCPGS-G","DBSCAN-G","SimRank-G","LinkClustering","DCPGS-R","DBSCAN-R","SimRank-R","Metis","Katz-G","CommuteTime-G","Jaccard-G","Jaccard-R"], "range": ["triangle-right","M-1,0L1,0M0,-1L0,1","triangle-down","circle","M-0.85,0L0.85,0M0,-0.85L0,0.85M-0.6,-0.6L0.6,0.6M-0.6,0.6L0.6,-0.6","M-0.7,-0.7L0.7,-0.7L0.7,0.7L-0.7,0.7Z","M-0.75,-0.75L0.75,0.75M-0.75,0.75L0.75,-0.75","M0.4,0L0.28,0.28L0,0.4L-0.28,0.28L-0.4,0L-0.28,-0.28L0,-0.4L0.28,-0.28Z","triangle-left","M0,-1L0.235,-0.324L0.951,-0.309L0.38,0.124L0.588,0.809L0,0.4L-0.588,0.809L-0.38,0.124L-0.951,-0.309L-0.235,-0.324Z","M-0.65,-0.65L0.65,-0.65L0.65,0.65L-0.65,0.65Z","triangle-up"]}},
"fill": {"field": "s", "type": "nominal", "legend": null, "scale": {"domain": ["DCPGS-G","DBSCAN-G","SimRank-G","LinkClustering","DCPGS-R","DBSCAN-R","SimRank-R","Metis","Katz-G","CommuteTime-G","Jaccard-G","Jaccard-R"], "range": ["white","white","white","white","white","white","white","black","white","white","black","black"]}}
}}
]
}
]
},
{
"spacing": 29,
"vconcat": [
{
"spacing": 22,
"hconcat": [
{
"width": 231, "height": 207,
"data": {"name": "e"},
"title": {"text": "(e) Gowalla", "offset": 0},
"encoding": {
"x": {"field": "x", "type": "quantitative", "scale": {"domain": [10, 300], "nice": false, "zero": false}, "axis": {"values": [10,50,100,150,200,250,300], "labelExpr": "datum.value == 300 ? '300 m' : datum.label", "labelAlign": {"condition": {"test": "datum.value == 300", "value": "left"}, "value": "center"}, "labelOffset": {"condition": {"test": "datum.value == 300", "value": -11}, "value": 0}, "title": "eps (DBSCAN) or maxD (others)", "titleFontSize": 14, "titlePadding": 1}},
"y": {"field": "y", "type": "quantitative", "scale": {"type": "log", "domain": [1, 500000], "nice": false}, "axis": {"values": [1,10,100,1000,10000,100000], "title": "Runtime ( seconds )", "labelExpr": "'10' + replace(replace(replace(replace(replace(replace(replace(replace(round(log(datum.value)/LN10) + '', '-', '⁻'), '0', '⁰'), '1', '¹'), '2', '²'), '3', '³'), '4', '⁴'), '5', '⁵'), '6', '⁶')"}}
},
"layer": [
{"mark": {"type": "line", "stroke": "black", "strokeWidth": 1.1}, "encoding": {"detail": {"field": "s"}}},
{"mark": {"type": "point", "size": 169, "stroke": "black", "strokeWidth": 1, "opacity": 1},
"encoding": {
"shape": {"field": "s", "type": "nominal", "legend": null, "scale": {"domain": ["DCPGS-G","DBSCAN-G","SimRank-G","LinkClustering","DCPGS-R","DBSCAN-R","SimRank-R","Metis","Katz-G","CommuteTime-G","Jaccard-G","Jaccard-R"], "range": ["triangle-right","M-1,0L1,0M0,-1L0,1","triangle-down","circle","M-0.85,0L0.85,0M0,-0.85L0,0.85M-0.6,-0.6L0.6,0.6M-0.6,0.6L0.6,-0.6","M-0.7,-0.7L0.7,-0.7L0.7,0.7L-0.7,0.7Z","M-0.75,-0.75L0.75,0.75M-0.75,0.75L0.75,-0.75","M0.4,0L0.28,0.28L0,0.4L-0.28,0.28L-0.4,0L-0.28,-0.28L0,-0.4L0.28,-0.28Z","triangle-left","M0,-1L0.235,-0.324L0.951,-0.309L0.38,0.124L0.588,0.809L0,0.4L-0.588,0.809L-0.38,0.124L-0.951,-0.309L-0.235,-0.324Z","M-0.65,-0.65L0.65,-0.65L0.65,0.65L-0.65,0.65Z","triangle-up"]}},
"fill": {"field": "s", "type": "nominal", "legend": null, "scale": {"domain": ["DCPGS-G","DBSCAN-G","SimRank-G","LinkClustering","DCPGS-R","DBSCAN-R","SimRank-R","Metis","Katz-G","CommuteTime-G","Jaccard-G","Jaccard-R"], "range": ["white","white","white","white","white","white","white","black","white","white","black","black"]}}
}}
]
},
{
"width": 227, "height": 207,
"data": {"name": "f"},
"title": {"text": "(f) Brightkite", "offset": 0},
"encoding": {
"x": {"field": "x", "type": "quantitative", "scale": {"domain": [10, 300], "nice": false, "zero": false}, "axis": {"values": [10,50,100,150,200,250,300], "labelExpr": "datum.value == 300 ? '300 m' : datum.label", "labelAlign": {"condition": {"test": "datum.value == 300", "value": "left"}, "value": "center"}, "labelOffset": {"condition": {"test": "datum.value == 300", "value": -11}, "value": 0}, "title": "eps (DBSCAN) or maxD (others)", "titleFontSize": 14, "titlePadding": 1}},
"y": {"field": "y", "type": "quantitative", "scale": {"type": "log", "domain": [1, 1000], "nice": false}, "axis": {"values": [1,10,100,1000], "title": "Runtime ( seconds )", "labelExpr": "'10' + replace(replace(replace(replace(replace(replace(replace(replace(round(log(datum.value)/LN10) + '', '-', '⁻'), '0', '⁰'), '1', '¹'), '2', '²'), '3', '³'), '4', '⁴'), '5', '⁵'), '6', '⁶')"}}
},
"layer": [
{"mark": {"type": "line", "stroke": "black", "strokeWidth": 1.1}, "encoding": {"detail": {"field": "s"}}},
{"mark": {"type": "point", "size": 169, "stroke": "black", "strokeWidth": 1, "opacity": 1},
"encoding": {
"shape": {"field": "s", "type": "nominal", "legend": null, "scale": {"domain": ["DCPGS-G","DBSCAN-G","SimRank-G","LinkClustering","DCPGS-R","DBSCAN-R","SimRank-R","Metis","Katz-G","CommuteTime-G","Jaccard-G","Jaccard-R"], "range": ["triangle-right","M-1,0L1,0M0,-1L0,1","triangle-down","circle","M-0.85,0L0.85,0M0,-0.85L0,0.85M-0.6,-0.6L0.6,0.6M-0.6,0.6L0.6,-0.6","M-0.7,-0.7L0.7,-0.7L0.7,0.7L-0.7,0.7Z","M-0.75,-0.75L0.75,0.75M-0.75,0.75L0.75,-0.75","M0.4,0L0.28,0.28L0,0.4L-0.28,0.28L-0.4,0L-0.28,-0.28L0,-0.4L0.28,-0.28Z","triangle-left","M0,-1L0.235,-0.324L0.951,-0.309L0.38,0.124L0.588,0.809L0,0.4L-0.588,0.809L-0.38,0.124L-0.951,-0.309L-0.235,-0.324Z","M-0.65,-0.65L0.65,-0.65L0.65,0.65L-0.65,0.65Z","triangle-up"]}},
"fill": {"field": "s", "type": "nominal", "legend": null, "scale": {"domain": ["DCPGS-G","DBSCAN-G","SimRank-G","LinkClustering","DCPGS-R","DBSCAN-R","SimRank-R","Metis","Katz-G","CommuteTime-G","Jaccard-G","Jaccard-R"], "range": ["white","white","white","white","white","white","white","black","white","white","black","black"]}}
}}
]
}
]
},
{
"spacing": 22,
"hconcat": [
{
"width": 253, "height": 208,
"data": {"name": "g"},
"title": {"text": "(g) Gowalla", "offset": 0},
"encoding": {
"x": {"field": "x", "type": "quantitative", "scale": {"domain": [0, 1], "nice": false, "zero": false}, "axis": {"values": [0,0.1,0.2,0.3,0.4,0.5,0.6,0.7,0.8,0.9,1], "format": ".1~f", "title": "ω", "titleFontSize": 10, "titlePadding": 1}},
"y": {"field": "y", "type": "quantitative", "scale": {"type": "log", "domain": [10, 350000], "nice": false}, "axis": {"values": [10,100,1000,10000,100000], "title": "Runtime ( seconds )", "labelExpr": "'10' + replace(replace(replace(replace(replace(replace(replace(replace(round(log(datum.value)/LN10) + '', '-', '⁻'), '0', '⁰'), '1', '¹'), '2', '²'), '3', '³'), '4', '⁴'), '5', '⁵'), '6', '⁶')"}}
},
"layer": [
{"mark": {"type": "line", "stroke": "black", "strokeWidth": 1.1}, "encoding": {"detail": {"field": "s"}}},
{"mark": {"type": "point", "size": 169, "stroke": "black", "strokeWidth": 1, "opacity": 1},
"encoding": {
"shape": {"field": "s", "type": "nominal", "legend": null, "scale": {"domain": ["DCPGS-G","DBSCAN-G","SimRank-G","LinkClustering","DCPGS-R","DBSCAN-R","SimRank-R","Metis","Katz-G","CommuteTime-G","Jaccard-G","Jaccard-R"], "range": ["triangle-right","M-1,0L1,0M0,-1L0,1","triangle-down","circle","M-0.85,0L0.85,0M0,-0.85L0,0.85M-0.6,-0.6L0.6,0.6M-0.6,0.6L0.6,-0.6","M-0.7,-0.7L0.7,-0.7L0.7,0.7L-0.7,0.7Z","M-0.75,-0.75L0.75,0.75M-0.75,0.75L0.75,-0.75","M0.4,0L0.28,0.28L0,0.4L-0.28,0.28L-0.4,0L-0.28,-0.28L0,-0.4L0.28,-0.28Z","triangle-left","M0,-1L0.235,-0.324L0.951,-0.309L0.38,0.124L0.588,0.809L0,0.4L-0.588,0.809L-0.38,0.124L-0.951,-0.309L-0.235,-0.324Z","M-0.65,-0.65L0.65,-0.65L0.65,0.65L-0.65,0.65Z","triangle-up"]}},
"fill": {"field": "s", "type": "nominal", "legend": null, "scale": {"domain": ["DCPGS-G","DBSCAN-G","SimRank-G","LinkClustering","DCPGS-R","DBSCAN-R","SimRank-R","Metis","Katz-G","CommuteTime-G","Jaccard-G","Jaccard-R"], "range": ["white","white","white","white","white","white","white","black","white","white","black","black"]}}
}}
]
},
{
"width": 250, "height": 208,
"data": {"name": "h"},
"title": {"text": "(h) Brightkite", "offset": 0},
"encoding": {
"x": {"field": "x", "type": "quantitative", "scale": {"domain": [0, 1], "nice": false, "zero": false}, "axis": {"values": [0,0.1,0.2,0.3,0.4,0.5,0.6,0.7,0.8,0.9,1], "format": ".1~f", "title": "ω", "titleFontSize": 10, "titlePadding": 1}},
"y": {"field": "y", "type": "quantitative", "scale": {"type": "log", "domain": [1, 160], "nice": false}, "axis": {"values": [1,10,100], "title": "Runtime ( seconds )", "labelExpr": "'10' + replace(replace(replace(replace(replace(replace(replace(replace(round(log(datum.value)/LN10) + '', '-', '⁻'), '0', '⁰'), '1', '¹'), '2', '²'), '3', '³'), '4', '⁴'), '5', '⁵'), '6', '⁶')"}}
},
"layer": [
{"mark": {"type": "line", "stroke": "black", "strokeWidth": 1.1}, "encoding": {"detail": {"field": "s"}}},
{"mark": {"type": "point", "size": 169, "stroke": "black", "strokeWidth": 1, "opacity": 1},
"encoding": {
"shape": {"field": "s", "type": "nominal", "legend": null, "scale": {"domain": ["DCPGS-G","DBSCAN-G","SimRank-G","LinkClustering","DCPGS-R","DBSCAN-R","SimRank-R","Metis","Katz-G","CommuteTime-G","Jaccard-G","Jaccard-R"], "range": ["triangle-right","M-1,0L1,0M0,-1L0,1","triangle-down","circle","M-0.85,0L0.85,0M0,-0.85L0,0.85M-0.6,-0.6L0.6,0.6M-0.6,0.6L0.6,-0.6","M-0.7,-0.7L0.7,-0.7L0.7,0.7L-0.7,0.7Z","M-0.75,-0.75L0.75,0.75M-0.75,0.75L0.75,-0.75","M0.4,0L0.28,0.28L0,0.4L-0.28,0.28L-0.4,0L-0.28,-0.28L0,-0.4L0.28,-0.28Z","triangle-left","M0,-1L0.235,-0.324L0.951,-0.309L0.38,0.124L0.588,0.809L0,0.4L-0.588,0.809L-0.38,0.124L-0.951,-0.309L-0.235,-0.324Z","M-0.65,-0.65L0.65,-0.65L0.65,0.65L-0.65,0.65Z","triangle-up"]}},
"fill": {"field": "s", "type": "nominal", "legend": null, "scale": {"domain": ["DCPGS-G","DBSCAN-G","SimRank-G","LinkClustering","DCPGS-R","DBSCAN-R","SimRank-R","Metis","Katz-G","CommuteTime-G","Jaccard-G","Jaccard-R"], "range": ["white","white","white","white","white","white","white","black","white","white","black","black"]}}
}}
]
}
]
}
]
}
]
}
]
}
],
"config": {
"view": {"stroke": null},
"font": "Liberation Sans",
"axis": {"grid": false, "domainColor": "black", "tickColor": "black", "labelColor": "black", "titleColor": "black", "labelFont": "Liberation Sans", "labelFontSize": 14, "titleFont": "Liberation Sans", "titleFontWeight": "normal", "titleFontSize": 16, "tickSize": -5, "labelPadding": 9, "domainWidth": 1, "tickWidth": 1, "labelOverlap": false, "labelFlush": false},
"title": {"font": "Liberation Serif", "fontSize": 21, "fontWeight": "normal", "orient": "bottom", "color": "black", "offset": 4}
}
}
